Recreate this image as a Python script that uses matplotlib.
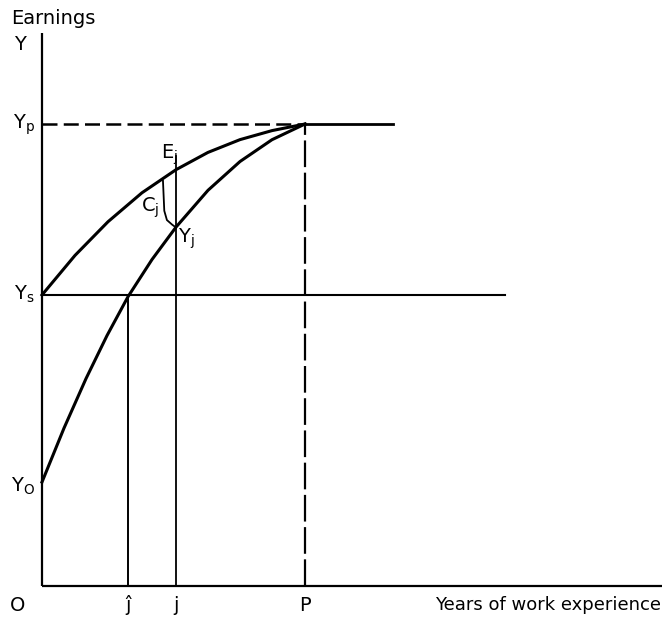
import numpy as np
import matplotlib.pyplot as plt

plt.rcParams['font.family'] = 'DejaVu Sans'
plt.rcParams['mathtext.fontset'] = 'dejavusans'

# key points on the axes (years, earnings)
x_jhat = 3.27
x_j = 5.10
x_P = 10.0
y_P = 10.0
y_S = 6.30
y_O = 2.25

# upper curve: earnings capacity E
upper_x = [0.0, 1.255, 2.51, 3.80, 5.095, 6.31, 7.53, 8.745, 10.0]
upper_y = [6.30, 7.156, 7.885, 8.511, 9.011, 9.385, 9.662, 9.857, 10.0]

# lower curve: observed earnings Y
lower_x = [0.0, 0.837, 1.673, 2.471, 3.27, 4.183, 5.095, 6.312, 7.529, 8.745, 10.0]
lower_y = [2.25, 3.418, 4.489, 5.42, 6.262, 7.067, 7.768, 8.565, 9.188, 9.66, 10.0]

x_axis_end = 23.57
y_axis_end = 11.97
yp_solid_end = 13.35
ys_end = 17.6

fig = plt.figure(figsize=(6.65, 6.23), dpi=100)
ax = fig.add_axes([0, 0, 1, 1])
ax.set_xlim(-1.597, 23.69)
ax.set_ylim(-0.80, 12.684)
ax.axis('off')

k = 'black'
# axes
ax.plot([0, 0], [0, y_axis_end], color=k, lw=1.6, solid_capstyle='butt')
ax.plot([0, x_axis_end], [0, 0], color=k, lw=1.6, solid_capstyle='butt')

# Yp line, dashed to P then solid
ax.plot([0, x_P], [y_P, y_P], color=k, lw=1.8, dashes=(6, 2.5))
ax.plot([x_P, yp_solid_end], [y_P, y_P], color=k, lw=2.0)
# P vertical dashed
ax.plot([x_P, x_P], [0, y_P], color=k, lw=1.6, dashes=(12, 2.5))
# Ys line
ax.plot([0, ys_end], [y_S, y_S], color=k, lw=1.5)

# curves
ax.plot(upper_x, upper_y, color=k, lw=2.2, solid_joinstyle='round')
ax.plot(lower_x, lower_y, color=k, lw=2.2, solid_joinstyle='round')

# verticals at j-hat and j
ax.plot([x_jhat, x_jhat], [0, y_S], color=k, lw=1.4)
e_j = np.interp(x_j, upper_x, upper_y)
y_j = np.interp(x_j, lower_x, lower_y)
ax.plot([x_j, x_j], [0, e_j + 0.3], color=k, lw=1.3)

# brace for C_j
bx = x_j - 0.5
btop = np.interp(bx, upper_x, upper_y) - 0.05
ax.plot([bx, bx + 0.05, bx + 0.15, bx + 0.35, x_j - 0.03],
         [btop, y_j + 0.35, y_j + 0.15, y_j + 0.05, y_j],
         color=k, lw=1.3, solid_joinstyle='round')

fs = 14
def lab(s, xy, off, ha='center', va='center', size=fs):
    ax.annotate(s, xy=xy, xytext=off, textcoords='offset pixels',
                ha=ha, va=va, fontsize=size)

lab('Earnings', (0, y_axis_end), (-31, 14), ha='left')
lab('Y', (0, y_axis_end), (-22, -12))
lab(r'Y$_\mathrm{p}$', (0, y_P), (-7, -1), ha='right')
lab(r'Y$_\mathrm{s}$', (0, y_S), (-7, 1), ha='right')
lab(r'Y$_\mathrm{O}$', (0, y_O), (-7, -4), ha='right')
lab(r'E$_\mathrm{j}$', (x_j, e_j), (-7, 15))
lab(r'C$_\mathrm{j}$', (bx, (btop + y_j) / 2), (-13, -4))
lab(r'Y$_\mathrm{j}$', (x_j, y_j), (10, -12))

lab('O', (0, 0), (-24, -19))
lab('ĵ', (x_jhat, 0), (0, -19))
lab('j', (x_j, 0), (0, -19))
lab('P', (x_P, 0), (0, -19))
lab('Years of work experience', (x_axis_end, 0), (-1, -19), ha='right', size=13)

fig.savefig('out.png', dpi=100)
